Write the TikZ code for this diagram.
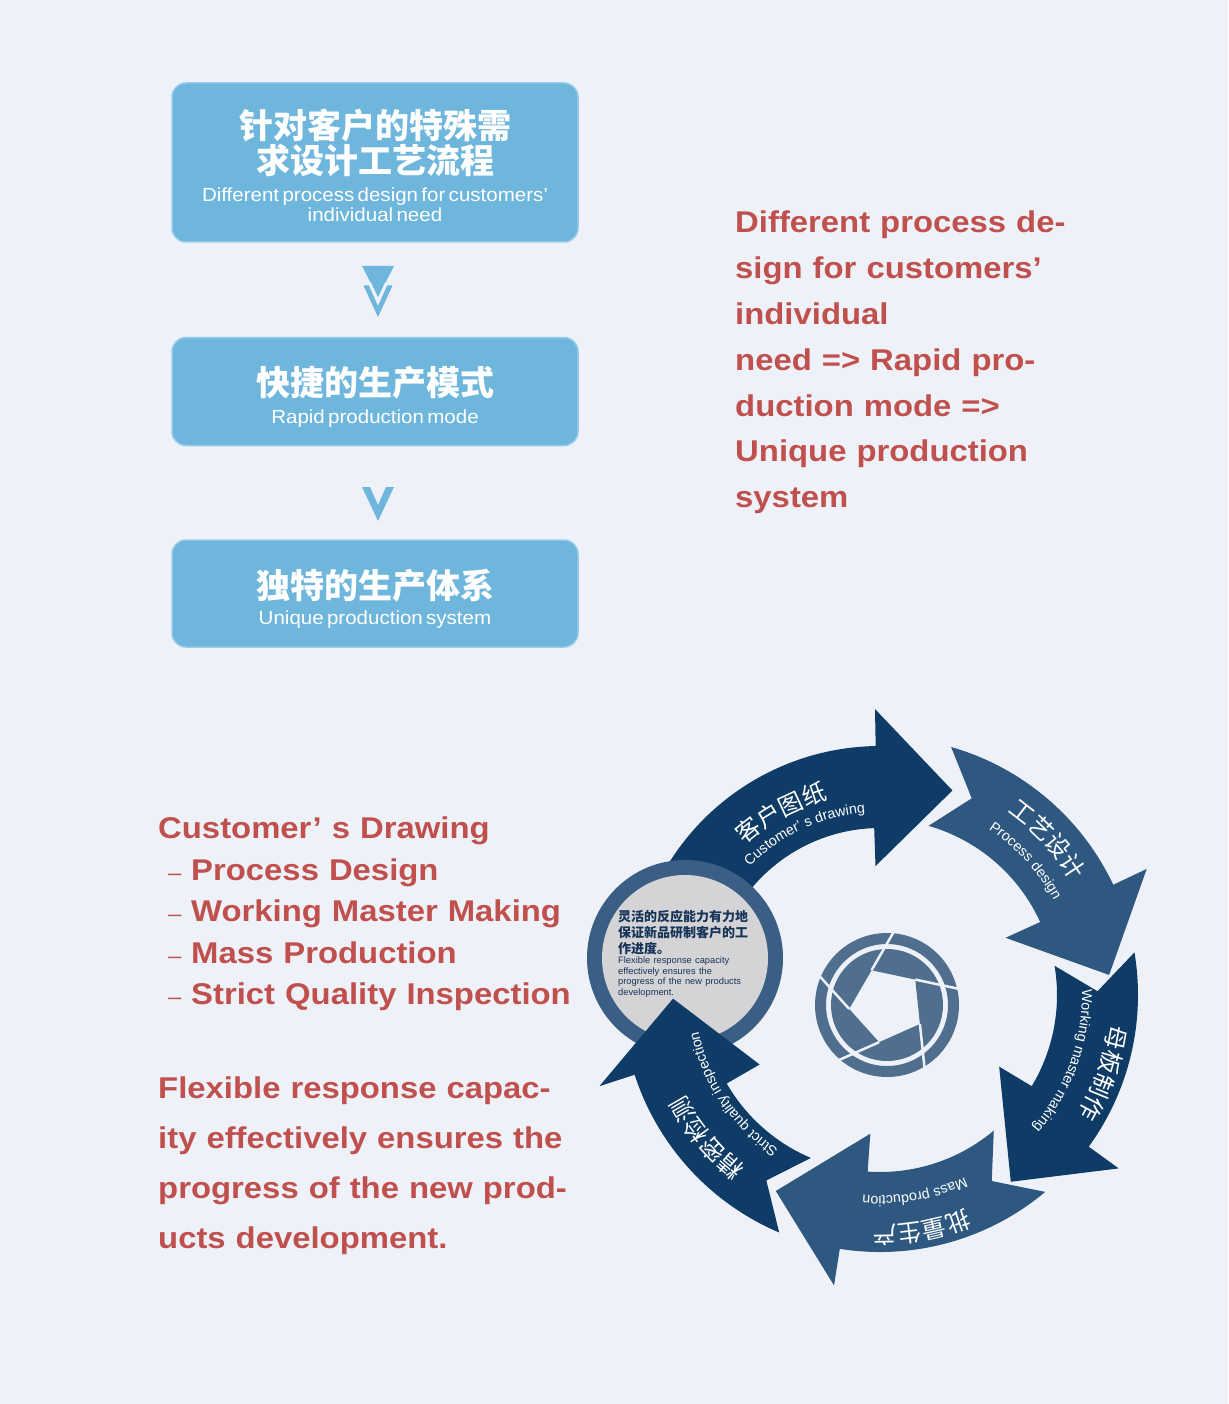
\documentclass[tikz,border=0pt]{standalone}
\usepackage{fontspec}
\setmainfont{Liberation Sans}
\newfontfamily\cjk{Noto Sans CJK SC}
\newfontfamily\widesans{Liberation Sans}[FakeStretch=1.095]
\newfontfamily\boxsans{Liberation Sans}[FakeStretch=1.08, WordSpace=1.35]
\usetikzlibrary{positioning,calc,decorations.text}

\definecolor{bgc}{RGB}{238,242,248}
\definecolor{boxblue}{RGB}{111,182,221}
\definecolor{boxrim}{RGB}{150,203,233}
\definecolor{redtxt}{RGB}{192,80,77}
\definecolor{navy}{RGB}{14,60,102}
\definecolor{slate}{RGB}{46,88,128}
\definecolor{ringblue}{RGB}{58,94,132}
\definecolor{discgrey}{RGB}{212,211,214}
\definecolor{iconblue}{RGB}{80,110,142}
\definecolor{notetxt}{RGB}{22,52,88}

\newcommand{\cjkarc}{\color{white}\cjk\fontsize{24}{24}\selectfont}
\newcommand{\enarc}{\color{white}\fontsize{14.3}{15}\selectfont}
% colour, tail, notch, outer base, inner base, inner r, outer r, tip angle, tip r
\newcommand{\wheelarrow}[9]{%
  \fill[#1] (#2:#7) arc[start angle=#2, end angle=#4, radius=#7]
    -- (#4:{#7+37}) -- (#8:#9) -- (#5:{#6-38}) -- (#5:#6)
    arc[start angle=#5, end angle=#2, radius=#6]
    -- (#3:{(#6+#7)/2}) -- cycle;}
% centre angle, radius, format, text
\newcommand{\arclabel}[4]{%
  \path[arctext, decoration={text={|#3|#4}}]
    ({#1+50}:#2) arc[start angle={#1+50}, end angle={#1-50}, radius=#2];}

\begin{document}
\begin{tikzpicture}[x=1pt, y=-1pt,
  box/.style={fill=boxblue, draw=boxrim, line width=1.5pt, rounded corners=14pt,
    minimum width=406pt, text width=400pt, align=center, text=white, inner sep=0pt},
  redtext/.style={text=redtxt, anchor=north west, inner sep=0pt, align=left},
  chev/.style={fill=boxblue},
  gapline/.style={draw=bgc, line width=3pt},
  arctext/.style={decorate, decoration={text along path, text align=center}}
]
\fill[bgc] (0,0) rectangle (1228,1404);
\path[use as bounding box] (0,0) rectangle (1228,1404);

% flow boxes
\node[box, minimum height=159pt] (need) at (375,162.5)
  {{\cjk\bfseries\fontsize{34}{35}\selectfont\rule{0pt}{36pt}针对客户的特殊需\\求设计工艺流程\par}\vspace{8pt}
   {\boxsans\fontsize{19}{20}\selectfont Different process design for customers’\\individual need\par}};
\node[box, minimum height=108pt, below=94pt of need] (rapid)
  {{\cjk\bfseries\fontsize{34}{35}\selectfont\rule{0pt}{40pt}快捷的生产模式\par}\vspace{8pt}
   {\boxsans\fontsize{19}{20}\selectfont Rapid production mode\par}};
\node[box, minimum height=107pt, below=93pt of rapid] (unique)
  {{\cjk\bfseries\fontsize{34}{35}\selectfont\rule{0pt}{40pt}独特的生产体系\par}\vspace{6pt}
   {\boxsans\fontsize{19}{20}\selectfont Unique production system\par}};

% chevrons
\fill[chev] (362,266) -- (394,266) -- (378,297) -- cycle;
\filldraw[chev, gapline] (361,284) -- (378,321) -- (395,284) -- (386,284) -- (378,302) -- (370,284) -- cycle;
\fill[chev] (362,487) -- (378,521) -- (394,487) -- (386,487) -- (378,505) -- (370,487) -- cycle;

% red notes
\node[redtext, font=\widesans\bfseries\fontsize{30}{45.8}\selectfont, text width=420pt] (flow) at (735,211)
  {Different process de-\\sign for customers’\\individual\\need => Rapid pro-\\duction mode =>\\Unique production\\system};
\node[redtext, font=\widesans\bfseries\fontsize{30}{41.5}\selectfont, text width=470pt] (steps) at (158,817)
  {Customer’\hspace{10pt}s Drawing\\
   \hspace*{10pt}\makebox[23pt][l]{\mdseries\fontsize{22}{22}\selectfont –}Process Design\\
   \hspace*{10pt}\makebox[23pt][l]{\mdseries\fontsize{22}{22}\selectfont –}Working Master Making\\
   \hspace*{10pt}\makebox[23pt][l]{\mdseries\fontsize{22}{22}\selectfont –}Mass Production\\
   \hspace*{10pt}\makebox[23pt][l]{\mdseries\fontsize{22}{22}\selectfont –}Strict Quality Inspection};
\node[redtext, font=\widesans\bfseries\fontsize{30}{50}\selectfont, text width=470pt] (flex) at (158,1077)
  {Flexible response capac-\\ity effectively ensures the\\progress of the new prod-\\ucts development.};

% cycle
\begin{scope}[shift={(880,995)}, yscale=-1]
  \wheelarrow{navy}{186}{178}{91}{92}{167}{249}{70.5}{217}
\end{scope}
\fill[ringblue] (685,958) circle[radius=98];
\fill[discgrey] (685,958) circle[radius=83];
\node[anchor=north west, inner sep=0pt, text width=150pt, align=left, text=notetxt] (note) at (618,910)
  {{\cjk\bfseries\fontsize{13}{16}\selectfont 灵活的反应能力有力地\\保证新品研制客户的工\\作进度。\par}
   {\fontsize{9.3}{10.4}\selectfont Flexible response capacity\\effectively ensures the\\progress of the new products\\development.\par}};
\begin{scope}[shift={(880,995)}, yscale=-1]
  \wheelarrow{slate}{74}{65}{25.3}{24.5}{176}{258}{5}{230}
  \wheelarrow{navy}{9.5}{1}{-36}{-31}{177}{258}{-55}{228}
  \wheelarrow{slate}{-50}{-59}{-99}{-94}{177}{257}{-118}{222}
  \wheelarrow{navy}{247}{238.5}{198}{210}{177}{258}{181}{207}
  \arclabel{118.5}{202}{\cjkarc}{客户图纸}
  \arclabel{115}{183}{\enarc}{Customer’ s drawing}
  \arclabel{43}{223}{\cjkarc}{工艺设计}
  \arclabel{42.6}{198}{\enarc}{Process design}
  \arclabel{-19.3}{231}{\cjkarc}{母板制作}
  \arclabel{-19.7}{202}{\enarc}{Working master making}
  \arclabel{-80}{231}{\cjkarc}{批量生产}
  \arclabel{-80}{201}{\enarc}{Mass production}
  \arclabel{219.5}{219}{\cjkarc}{精密检测}
  \arclabel{214}{185}{\enarc}{Strict quality inspection}
\end{scope}

% shutter icon
\begin{scope}[shift={(887,1005)}, yscale=-1]
  \fill[iconblue, even odd rule] (0,0) circle[radius=72] (0,0) circle[radius=61];
  \fill[iconblue, even odd rule] (0,0) circle[radius=56]
    (114:38) -- (42:38) -- (-30:38) -- (-102:38) -- (-174:38) -- cycle;
  \foreach \a in {114,42,-30,-102,-174}
    \draw[gapline, line width=2.5pt] (\a:38) -- ($({\a+72}:38)!2.8!(\a:38)$);
\end{scope}
\end{tikzpicture}
\end{document}
